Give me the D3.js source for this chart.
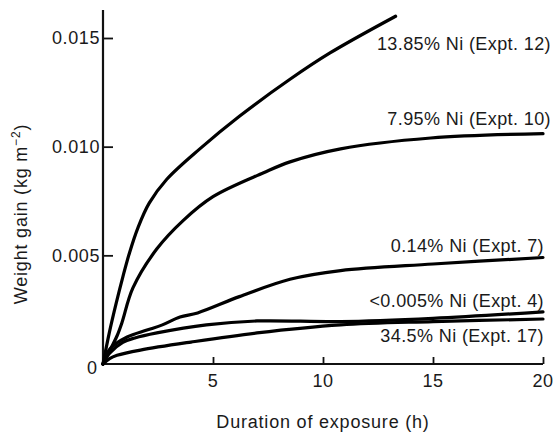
<!DOCTYPE html>
<html>
<head>
<meta charset="utf-8">
<script src="https://cdn.jsdelivr.net/npm/d3@7"></script>
<style>
  html, body { margin: 0; padding: 0; background: #fff; }
  svg { display: block; }
  text { font-family: "Liberation Sans", "DejaVu Sans", sans-serif; fill: #1a1a1a; }
</style>
</head>
<body>
<svg id="chart" width="555" height="437"></svg>
<script>
// Weight gain of Fe–Ni alloys versus exposure time
const xTicks = [5, 10, 15, 20];
const yTicks = [0.005, 0.010, 0.015];
const yTickLabels = ["0.005", "0.010", "0.015"];

const ni1385Hours  = [0, 0.3, 0.6, 0.9, 1.2, 1.6, 2.1, 2.9, 4.4, 6.2, 8.5, 10.3, 13.3];
const ni1385Gain   = [0, 0.0015, 0.0028, 0.0040, 0.0051, 0.0063, 0.0074, 0.0085, 0.0099, 0.0114, 0.0131, 0.0143, 0.0160];

const ni795Hours   = [0, 0.3, 0.64, 0.86, 1.36, 2.45, 3.64, 5.0, 7.3, 8.5, 10.8, 14.9, 20];
const ni795Gain    = [0, 0.0006, 0.0013, 0.0019, 0.0035, 0.0053, 0.0066, 0.0077, 0.0088, 0.0093, 0.0099, 0.0104, 0.0106];

const ni014Hours   = [0, 0.32, 1.1, 2.0, 2.7, 3.5, 4.3, 6.2, 8.5, 10.8, 15, 20];
const ni014Gain    = [0, 0.0007, 0.00124, 0.00156, 0.0018, 0.00216, 0.00235, 0.0031, 0.0039, 0.0043, 0.0046, 0.0049];

const ni0005Hours  = [0, 0.3, 0.9, 1.45, 2.45, 4.7, 7, 10.8, 15, 20];
const ni0005Gain   = [0, 0.0005, 0.0010, 0.0012, 0.00143, 0.0018, 0.00198, 0.00195, 0.0021, 0.0024];

const ni345Hours   = [0, 0.3, 0.64, 1.7, 4, 7, 10.8, 15, 20];
const ni345Gain    = [0, 0.00025, 0.0004, 0.00064, 0.00101, 0.00143, 0.0018, 0.00195, 0.00207];

const seriesNames = ["13.85% Ni (Expt. 12)", "7.95% Ni (Expt. 10)", "0.14% Ni (Expt. 7)",
                     "<0.005% Ni (Expt. 4)", "34.5% Ni (Expt. 17)"];
const seriesHours = [ni1385Hours, ni795Hours, ni014Hours, ni0005Hours, ni345Hours];
const seriesGain  = [ni1385Gain, ni795Gain, ni014Gain, ni0005Gain, ni345Gain];

// label placement (right edge in px, baseline in px)
const labelPlace = [[551, 50], [551, 125], [544, 252], [544, 307], [544, 342]];

const svg = d3.select("#chart");
const x = d3.scaleLinear().domain([0, 20]).range([103, 543]);
const y = d3.scaleLinear().domain([0, 0.015]).range([364, 38]);
const yTop = 10;

const axisColor = "#111";

// axes
const xAxis = svg.append("g").attr("transform", `translate(0,${y(0)})`)
  .call(d3.axisTop(x).tickValues(xTicks).tickSize(7).tickFormat(""));
xAxis.select(".domain").remove();
xAxis.selectAll("line").attr("stroke", axisColor).attr("stroke-width", 1.8);

const yAxis = svg.append("g").attr("transform", `translate(${x(0)},0)`)
  .call(d3.axisRight(y).tickValues(yTicks).tickSize(10).tickFormat(""));
yAxis.select(".domain").remove();
yAxis.selectAll("line").attr("stroke", axisColor).attr("stroke-width", 1.8);

svg.append("line").attr("x1", x(0)).attr("x2", x(20)).attr("y1", y(0)).attr("y2", y(0))
  .attr("stroke", axisColor).attr("stroke-width", 2.2);
svg.append("line").attr("x1", x(0)).attr("x2", x(0)).attr("y1", y(0)).attr("y2", yTop)
  .attr("stroke", axisColor).attr("stroke-width", 2.2);

// tick labels
svg.append("g").selectAll("text").data(yTicks).join("text")
  .attr("x", x(0) - 3).attr("y", d => y(d)).attr("dy", "0.36em")
  .attr("text-anchor", "end").attr("font-size", 18).attr("letter-spacing", 0.6)
  .text((d, i) => yTickLabels[i]);
svg.append("text").attr("x", x(0) - 6).attr("y", y(0) + 4).attr("dy", "0.36em")
  .attr("text-anchor", "end").attr("font-size", 18).text("0");
svg.append("g").selectAll("text").data(xTicks).join("text")
  .attr("x", d => x(d)).attr("y", y(0) + 17).attr("dy", "0.36em")
  .attr("text-anchor", "middle").attr("font-size", 18).attr("letter-spacing", 0.6)
  .text(d => d);

// axis titles
svg.append("text").attr("x", 323).attr("y", 428).attr("text-anchor", "middle")
  .attr("font-size", 18).attr("letter-spacing", 0.8).text("Duration of exposure (h)");
const yt = svg.append("text").attr("transform", "translate(27,214) rotate(-90)")
  .attr("text-anchor", "middle").attr("font-size", 18).attr("letter-spacing", 0.8);
yt.append("tspan").text("Weight gain (kg m");
yt.append("tspan").attr("font-size", 12).attr("dy", -7).text("\u22122");
yt.append("tspan").attr("dy", 7).text(")");

// curves
const line = d3.line().x(d => x(d[0])).y(d => y(d[1])).curve(d3.curveCatmullRom.alpha(0.5));
seriesHours.forEach((hrs, i) => {
  const pts = hrs.map((h, j) => [h, seriesGain[i][j]]);
  svg.append("path").attr("d", line(pts)).attr("fill", "none")
    .attr("stroke", "#000").attr("stroke-width", 3.2)
    .attr("stroke-linecap", "round").attr("stroke-linejoin", "round");
});

// series labels
svg.append("g").selectAll("text").data(seriesNames).join("text")
  .attr("x", (d, i) => labelPlace[i][0]).attr("y", (d, i) => labelPlace[i][1])
  .attr("text-anchor", "end").attr("font-size", 18).attr("letter-spacing", 0.4)
  .text(d => d);
</script>
</body>
</html>
